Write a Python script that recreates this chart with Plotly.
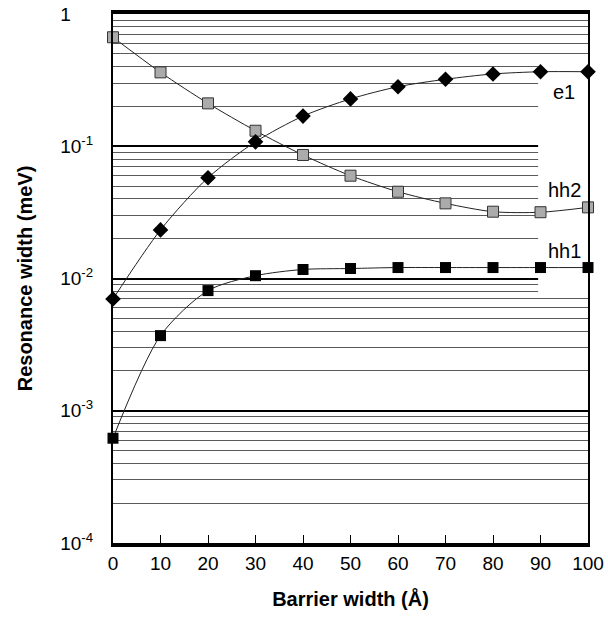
import math
import plotly.graph_objects as go

# Barrier width (Å)
barrier = [0, 10, 20, 30, 40, 50, 60, 70, 80, 90, 100]

# Resonance widths (meV)
e1 = [0.0070, 0.0233, 0.0578, 0.108, 0.169, 0.228, 0.282, 0.321, 0.352, 0.366, 0.366]
hh2 = [0.667, 0.362, 0.211, 0.131, 0.0859, 0.0599, 0.0453, 0.0370, 0.0320, 0.0317, 0.0345]
hh1 = [0.00062, 0.0037, 0.0081, 0.0105, 0.0117, 0.0119, 0.0121, 0.0121, 0.0121, 0.0121, 0.0121]

x_ticks = [0, 10, 20, 30, 40, 50, 60, 70, 80, 90, 100]
y_ticks = [1e-4, 1e-3, 1e-2, 1e-1, 1]
# the "1" label keeps the width of a power label so it lines up with the "10"s
y_ticktext = ["10<sup>-4</sup>", "10<sup>-3</sup>", "10<sup>-2</sup>", "10<sup>-1</sup>",
              "1<span style='color:rgba(0,0,0,0)'>0<sup>-1</sup></span>"]
y_minor = [m * d for d in [1e-4, 1e-3, 1e-2, 1e-1] for m in range(2, 10)]

# curve labels: (text, x, y in meV)
curve_labels = [("e1", 95, 0.257), ("hh2", 95, 0.0463), ("hh1", 95, 0.0161)]

FONT = "Arial, 'Liberation Sans', sans-serif"

fig = go.Figure()

fig.add_trace(go.Scatter(
    x=barrier, y=hh2, mode="lines+markers", name="hh2",
    line=dict(color="#222222", width=1, shape="spline", smoothing=0.8),
    marker=dict(symbol="square", size=11, color="#ababab",
                line=dict(color="#333333", width=1)),
    cliponaxis=False,
))
fig.add_trace(go.Scatter(
    x=barrier, y=e1, mode="lines+markers", name="e1",
    line=dict(color="#222222", width=1, shape="spline", smoothing=0.8),
    marker=dict(symbol="diamond", size=12, color="black"),
    cliponaxis=False,
))
fig.add_trace(go.Scatter(
    x=barrier, y=hh1, mode="lines+markers", name="hh1",
    line=dict(color="#222222", width=1, shape="spline", smoothing=0.8),
    marker=dict(symbol="square", size=11, color="black"),
    cliponaxis=False,
))

# white panel behind the curve labels (hides the grid there)
fig.add_shape(type="rect", xref="x", yref="y", x0=89.5, x1=100,
              y0=0.0075, y1=0.45, fillcolor="white", line_width=0,
              layer="between")

for text, xv, yv in curve_labels:
    fig.add_annotation(x=xv, y=math.log10(yv), xref="x", yref="y", text=text,
                       showarrow=False, font=dict(size=20, color="black", family=FONT))

fig.update_layout(
    width=608, height=617,
    margin=dict(l=113, r=20, t=14, b=74),
    paper_bgcolor="white", plot_bgcolor="white",
    showlegend=False,
    font=dict(family=FONT, color="black", size=19),
)

fig.update_xaxes(
    range=[0, 100], tickvals=x_ticks, automargin=False,
    ticks="inside", ticklen=8, tickwidth=1, tickcolor="black",
    showgrid=False, zeroline=False,
    showline=True, linewidth=3.5, linecolor="black", mirror=True,
    tickfont=dict(size=19),
    title=dict(text="<b>Barrier width (Å)</b>", font=dict(size=20), standoff=20),
)
fig.update_yaxes(
    type="log", range=[-4, 0], automargin=False,
    tickvals=y_ticks, ticktext=y_ticktext,
    ticks="", ticklabelstandoff=14,
    showgrid=True, gridcolor="black", gridwidth=1.5,
    minor=dict(tickvals=y_minor, showgrid=True, gridcolor="#5a5a5a", gridwidth=1, ticks=""),
    zeroline=False,
    showline=True, linewidth=2, linecolor="black", mirror=True,
    tickfont=dict(size=19),
    title=dict(text="<b>Resonance width (meV)</b>", font=dict(size=20), standoff=22),
)

fig.write_html("out.html")
